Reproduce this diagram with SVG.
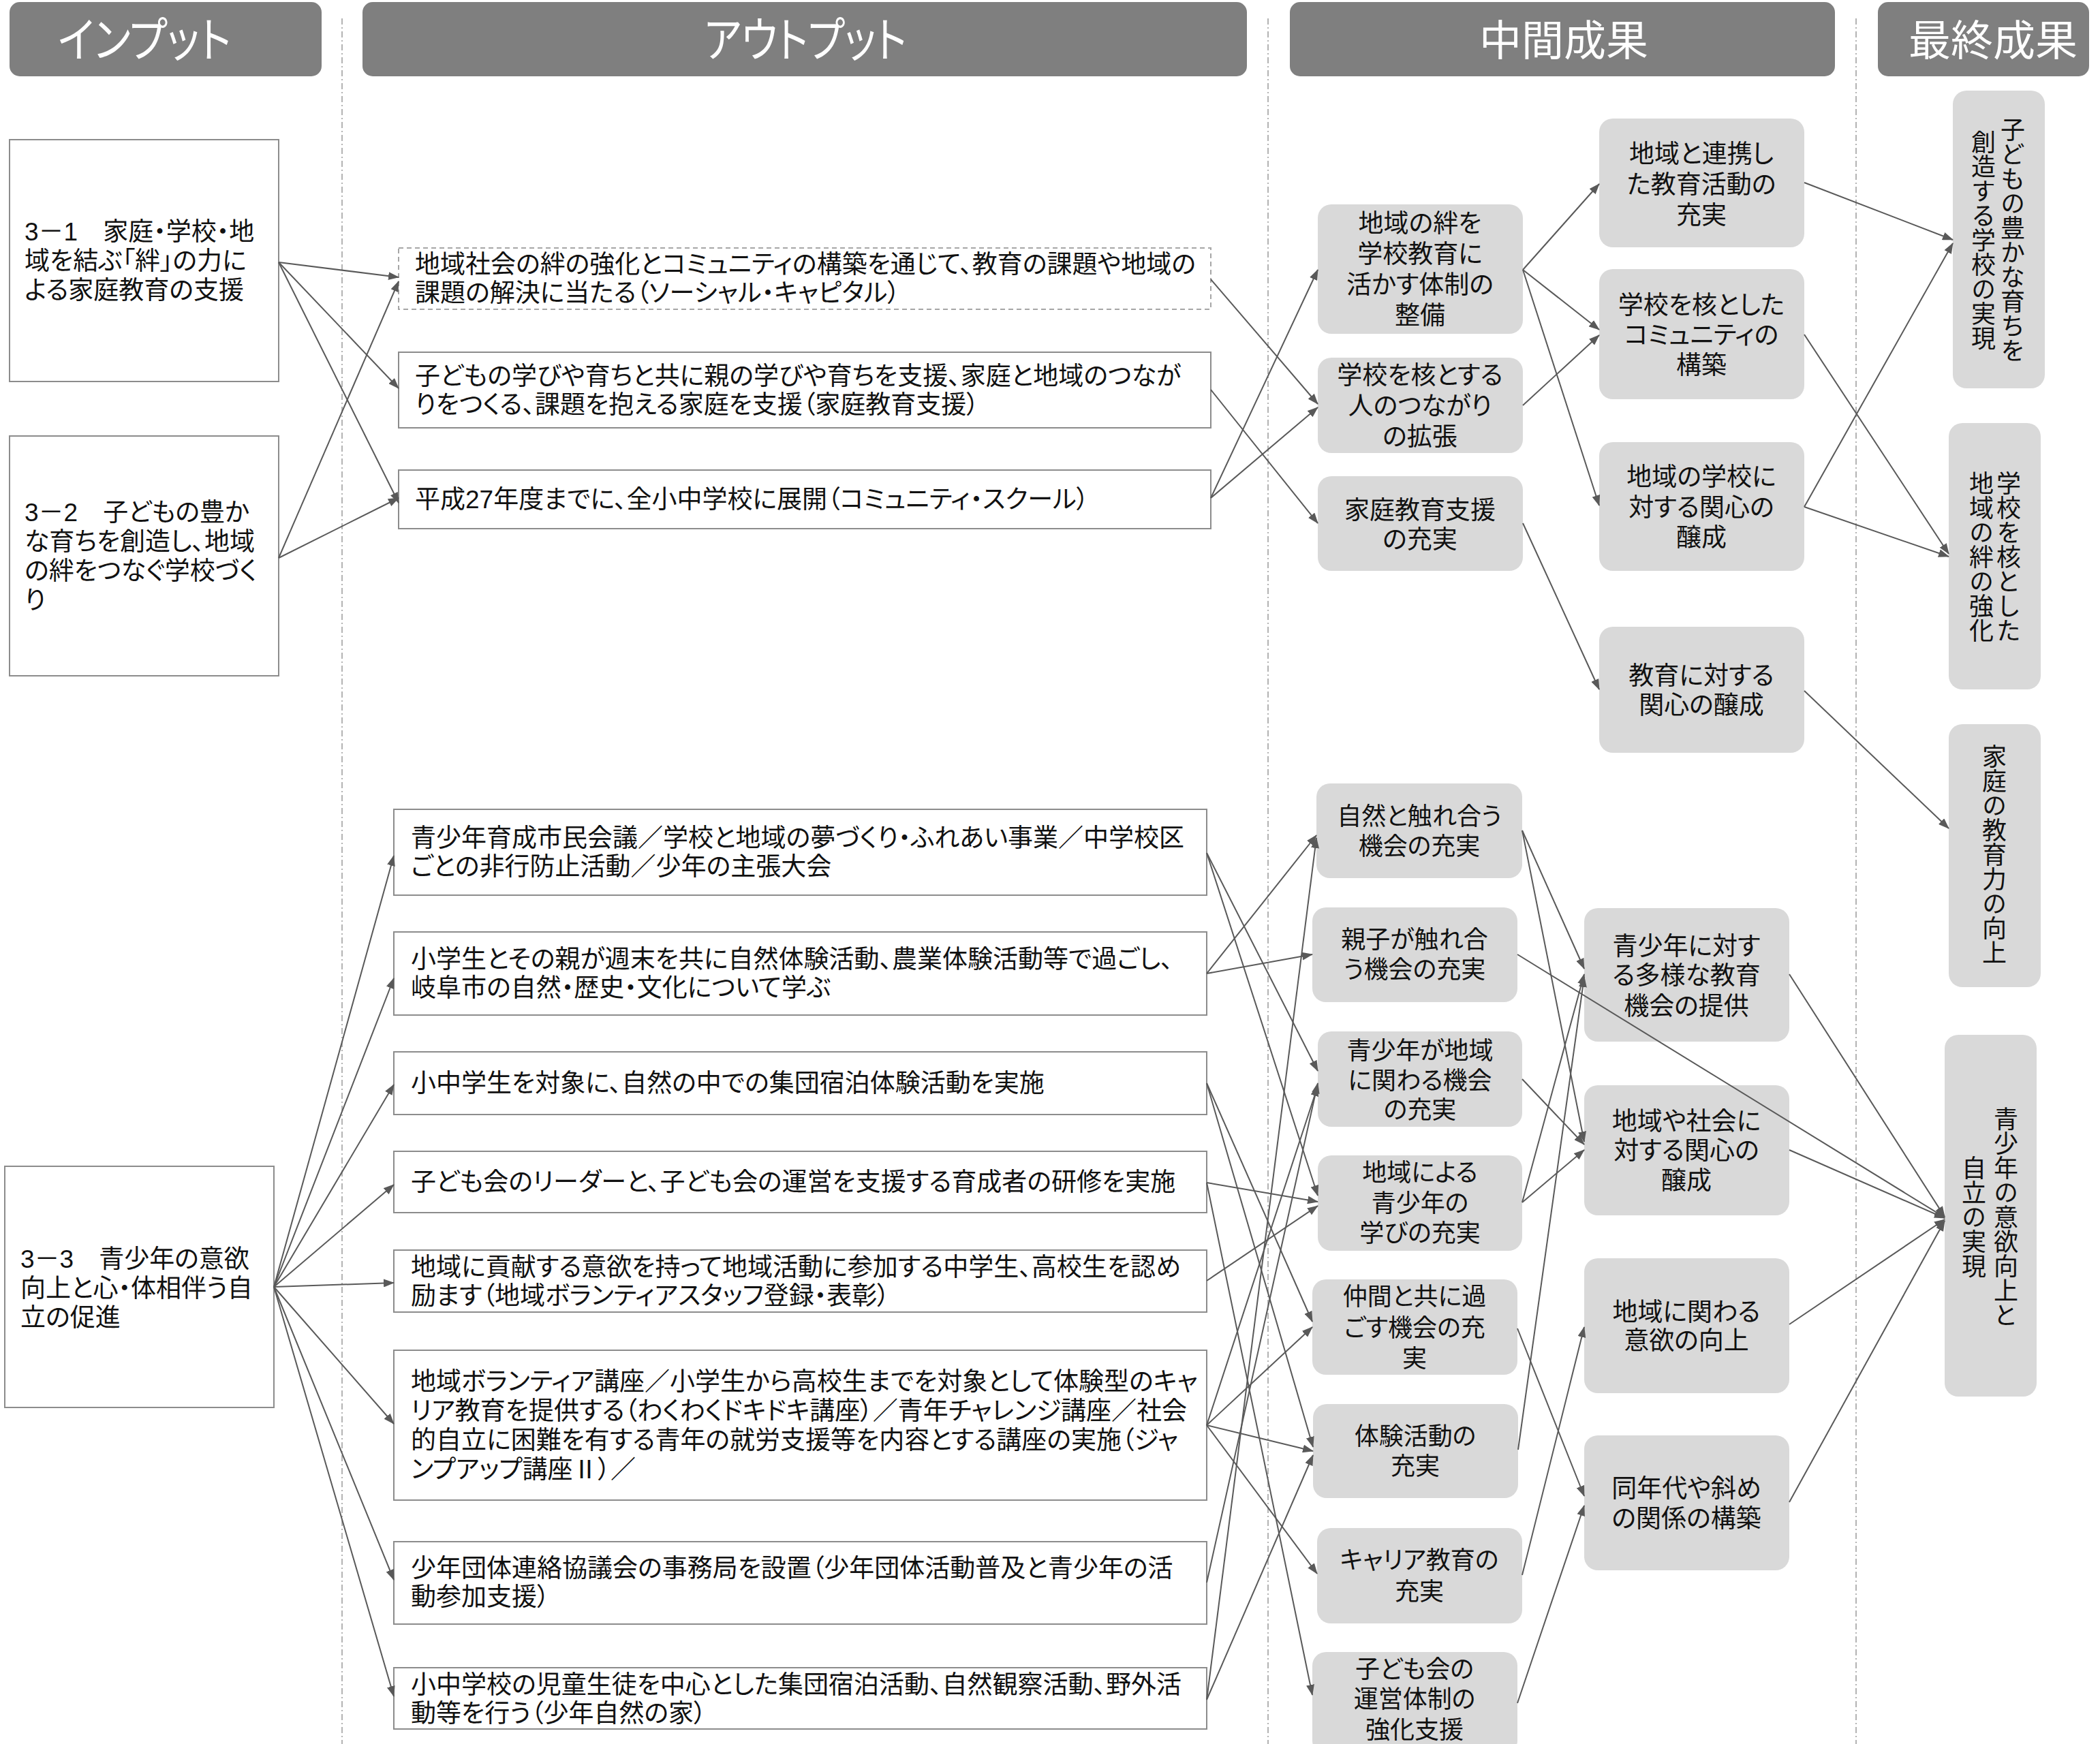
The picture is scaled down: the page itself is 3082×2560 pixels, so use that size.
<svg xmlns="http://www.w3.org/2000/svg" width="3082" height="2560" viewBox="0 0 3082 2560">
<defs>
<marker id="ah" viewBox="0 0 16 12" refX="15" refY="6" markerWidth="16" markerHeight="12" markerUnits="userSpaceOnUse" orient="auto"><path d="M0,0 L16,6 L0,12 z" fill="#595959"/></marker>
<style>
.hd{fill:#7f7f7f}
.ht{fill:#fff;font-family:"Liberation Sans","Noto Sans CJK JP",sans-serif;font-size:62px;text-anchor:middle;dominant-baseline:central;font-feature-settings:"palt"}
.hk{font-size:70px}
.sep{stroke:#9a9a9a;stroke-width:1.5;stroke-dasharray:9 4 2 4;fill:none}
.bx{fill:#fff;stroke:#8c8c8c;stroke-width:2}
.bxd{fill:#fff;stroke:#a6a6a6;stroke-width:2;stroke-dasharray:7 5}
.nd{fill:#d9d9d9}
.t{font-family:"Liberation Sans","Noto Sans CJK JP",sans-serif;font-size:37px;fill:#111;dominant-baseline:central;font-feature-settings:"palt"}
.c{text-anchor:middle}
.s{font-size:36px}
.v{font-family:"Noto Sans CJK JP",sans-serif;font-size:36px;fill:#111;writing-mode:vertical-rl;text-anchor:middle}
.ln{stroke:#595959;stroke-width:2;fill:none;marker-end:url(#ah)}
</style>
</defs>
<rect width="3082" height="2560" fill="#fff"/>

<g id="headers">
<rect class="hd" x="14" y="3" width="458" height="109" rx="15"/>
<text class="ht hk" x="212" y="60" textLength="254" lengthAdjust="spacingAndGlyphs">インプット</text>
<rect class="hd" x="532" y="3" width="1298" height="109" rx="15"/>
<text class="ht hk" x="1182" y="60" textLength="297" lengthAdjust="spacingAndGlyphs">アウトプット</text>
<rect class="hd" x="1893" y="3" width="800" height="109" rx="15"/>
<text class="ht" x="2295" y="60">中間成果</text>
<rect class="hd" x="2756" y="3" width="310" height="109" rx="15"/>
<text class="ht" x="2925" y="60">最終成果</text>
</g>

<g id="separators">
<line class="sep" x1="502" y1="27" x2="502" y2="2560"/>
<line class="sep" x1="1861" y1="27" x2="1861" y2="2560"/>
<line class="sep" x1="2724" y1="27" x2="2724" y2="2560"/>
</g>

<g id="in31"><rect class="bx" x="14" y="205" width="395" height="355"/>
<text class="t"><tspan x="36" y="340">3－1　家庭・学校・地</tspan><tspan x="36" y="383">域を結ぶ「絆」の力に</tspan><tspan x="36" y="426">よる家庭教育の支援</tspan></text></g>
<g id="in32"><rect class="bx" x="14" y="640" width="395" height="352"/>
<text class="t"><tspan x="36" y="752">3－2　子どもの豊か</tspan><tspan x="36" y="795">な育ちを創造し、地域</tspan><tspan x="36" y="838">の絆をつなぐ学校づく</tspan><tspan x="36" y="881">り</tspan></text></g>
<g id="in33"><rect class="bx" x="7" y="1712" width="395" height="354"/>
<text class="t"><tspan x="30" y="1848">3－3　青少年の意欲</tspan><tspan x="30" y="1891">向上と心・体相伴う自</tspan><tspan x="30" y="1934">立の促進</tspan></text></g>

<g id="o1"><rect class="bxd" x="585" y="364" width="1192" height="90"/>
<text class="t"><tspan x="609" y="388">地域社会の絆の強化とコミュニティの構築を通じて、教育の課題や地域の</tspan><tspan x="609" y="430">課題の解決に当たる（ソーシャル・キャピタル）</tspan></text></g>
<g id="o2"><rect class="bx" x="585" y="517" width="1192" height="111"/>
<text class="t"><tspan x="609" y="552">子どもの学びや育ちと共に親の学びや育ちを支援、家庭と地域のつなが</tspan><tspan x="609" y="594">りをつくる、課題を抱える家庭を支援（家庭教育支援）</tspan></text></g>
<g id="o3"><rect class="bx" x="585" y="690" width="1192" height="86"/>
<text class="t" x="609" y="733">平成27年度までに、全小中学校に展開（コミュニティ・スクール）</text></g>

<g id="b1"><rect class="bx" x="578" y="1188" width="1193" height="126"/>
<text class="t"><tspan x="603" y="1230">青少年育成市民会議／学校と地域の夢づくり・ふれあい事業／中学校区</tspan><tspan x="603" y="1272">ごとの非行防止活動／少年の主張大会</tspan></text></g>
<g id="b2"><rect class="bx" x="578" y="1368" width="1193" height="122"/>
<text class="t"><tspan x="603" y="1408">小学生とその親が週末を共に自然体験活動、農業体験活動等で過ごし、</tspan><tspan x="603" y="1450">岐阜市の自然・歴史・文化について学ぶ</tspan></text></g>
<g id="b3"><rect class="bx" x="578" y="1544" width="1193" height="92"/>
<text class="t" x="603" y="1590">小中学生を対象に、自然の中での集団宿泊体験活動を実施</text></g>
<g id="b4"><rect class="bx" x="578" y="1690" width="1193" height="90"/>
<text class="t" x="603" y="1735">子ども会のリーダーと、子ども会の運営を支援する育成者の研修を実施</text></g>
<g id="b5"><rect class="bx" x="578" y="1835" width="1193" height="91"/>
<text class="t"><tspan x="603" y="1860">地域に貢献する意欲を持って地域活動に参加する中学生、高校生を認め</tspan><tspan x="603" y="1902">励ます（地域ボランティアスタッフ登録・表彰）</tspan></text></g>
<g id="b6"><rect class="bx" x="578" y="1982" width="1193" height="220"/>
<text class="t"><tspan x="603" y="2028">地域ボランティア講座／小学生から高校生までを対象として体験型のキャ</tspan><tspan x="603" y="2071">リア教育を提供する（わくわくドキドキ講座）／青年チャレンジ講座／社会</tspan><tspan x="603" y="2114">的自立に困難を有する青年の就労支援等を内容とする講座の実施（ジャ</tspan><tspan x="603" y="2157">ンプアップ講座Ⅱ）／</tspan></text></g>
<g id="b7"><rect class="bx" x="578" y="2263" width="1193" height="121"/>
<text class="t"><tspan x="603" y="2302">少年団体連絡協議会の事務局を設置（少年団体活動普及と青少年の活</tspan><tspan x="603" y="2344">動参加支援）</tspan></text></g>
<g id="b8"><rect class="bx" x="578" y="2448" width="1193" height="90"/>
<text class="t"><tspan x="603" y="2473">小中学校の児童生徒を中心とした集団宿泊活動、自然観察活動、野外活</tspan><tspan x="603" y="2515">動等を行う（少年自然の家）</tspan></text></g>

<g id="a1"><rect class="nd" x="1934" y="300" width="301" height="190" rx="20"/>
<text class="t c"><tspan x="2084" y="328">地域の絆を</tspan><tspan x="2084" y="373">学校教育に</tspan><tspan x="2084" y="418">活かす体制の</tspan><tspan x="2084" y="463">整備</tspan></text></g>
<g id="a2"><rect class="nd" x="1934" y="525" width="301" height="140" rx="20"/>
<text class="t c"><tspan x="2084" y="551">学校を核とする</tspan><tspan x="2084" y="596">人のつながり</tspan><tspan x="2084" y="641">の拡張</tspan></text></g>
<g id="a3"><rect class="nd" x="1934" y="699" width="301" height="139" rx="20"/>
<text class="t c"><tspan x="2084" y="749">家庭教育支援</tspan><tspan x="2084" y="792">の充実</tspan></text></g>

<g id="c1"><rect class="nd" x="2347" y="174" width="301" height="189" rx="20"/>
<text class="t c"><tspan x="2497" y="226">地域と連携し</tspan><tspan x="2497" y="271">た教育活動の</tspan><tspan x="2497" y="316">充実</tspan></text></g>
<g id="c2"><rect class="nd" x="2347" y="395" width="301" height="191" rx="20"/>
<text class="t c"><tspan x="2497" y="448">学校を核とした</tspan><tspan x="2497" y="492">コミュニティの</tspan><tspan x="2497" y="536">構築</tspan></text></g>
<g id="c3"><rect class="nd" x="2347" y="649" width="301" height="189" rx="20"/>
<text class="t c"><tspan x="2497" y="700">地域の学校に</tspan><tspan x="2497" y="745">対する関心の</tspan><tspan x="2497" y="789">醸成</tspan></text></g>
<g id="c4"><rect class="nd" x="2347" y="920" width="301" height="185" rx="20"/>
<text class="t c"><tspan x="2497" y="992">教育に対する</tspan><tspan x="2497" y="1035">関心の醸成</tspan></text></g>

<g id="d1"><rect class="nd" x="1932" y="1150" width="302" height="139" rx="20"/>
<text class="t c s"><tspan x="2083" y="1198">自然と触れ合う</tspan><tspan x="2083" y="1242">機会の充実</tspan></text></g>
<g id="d2"><rect class="nd" x="1926" y="1332" width="301" height="139" rx="20"/>
<text class="t c s"><tspan x="2076" y="1379">親子が触れ合</tspan><tspan x="2076" y="1423">う機会の充実</tspan></text></g>
<g id="d3"><rect class="nd" x="1934" y="1514" width="300" height="140" rx="20"/>
<text class="t c s"><tspan x="2084" y="1542">青少年が地域</tspan><tspan x="2084" y="1586">に関わる機会</tspan><tspan x="2084" y="1629">の充実</tspan></text></g>
<g id="d4"><rect class="nd" x="1934" y="1696" width="300" height="140" rx="20"/>
<text class="t c s"><tspan x="2084" y="1721">地域による</tspan><tspan x="2084" y="1766">青少年の</tspan><tspan x="2084" y="1810">学びの充実</tspan></text></g>
<g id="d5"><rect class="nd" x="1926" y="1878" width="301" height="140" rx="20"/>
<text class="t c s"><tspan x="2076" y="1903">仲間と共に過</tspan><tspan x="2076" y="1949">ごす機会の充</tspan><tspan x="2076" y="1994">実</tspan></text></g>
<g id="d6"><rect class="nd" x="1927" y="2061" width="301" height="138" rx="20"/>
<text class="t c s"><tspan x="2077" y="2108">体験活動の</tspan><tspan x="2077" y="2152">充実</tspan></text></g>
<g id="d7"><rect class="nd" x="1933" y="2243" width="301" height="140" rx="20"/>
<text class="t c s"><tspan x="2083" y="2290">キャリア教育の</tspan><tspan x="2083" y="2336">充実</tspan></text></g>
<g id="d8"><rect class="nd" x="1926" y="2425" width="301" height="150" rx="20"/>
<text class="t c s"><tspan x="2076" y="2450">子ども会の</tspan><tspan x="2076" y="2494">運営体制の</tspan><tspan x="2076" y="2539">強化支援</tspan></text></g>

<g id="e1"><rect class="nd" x="2325" y="1333" width="301" height="196" rx="20"/>
<text class="t c"><tspan x="2475" y="1389">青少年に対す</tspan><tspan x="2475" y="1432">る多様な教育</tspan><tspan x="2475" y="1477">機会の提供</tspan></text></g>
<g id="e2"><rect class="nd" x="2325" y="1593" width="301" height="191" rx="20"/>
<text class="t c"><tspan x="2475" y="1646">地域や社会に</tspan><tspan x="2475" y="1689">対する関心の</tspan><tspan x="2475" y="1733">醸成</tspan></text></g>
<g id="e3"><rect class="nd" x="2325" y="1847" width="301" height="198" rx="20"/>
<text class="t c"><tspan x="2475" y="1926">地域に関わる</tspan><tspan x="2475" y="1968">意欲の向上</tspan></text></g>
<g id="e4"><rect class="nd" x="2325" y="2107" width="301" height="198" rx="20"/>
<text class="t c"><tspan x="2475" y="2185">同年代や斜め</tspan><tspan x="2475" y="2229">の関係の構築</tspan></text></g>

<g id="f1"><rect class="nd" x="2866" y="133" width="135" height="437" rx="20"/>
<text class="v" x="2954" y="352">子どもの豊かな育ちを</text>
<text class="v" x="2911" y="352">創造する学校の実現</text></g>
<g id="f2"><rect class="nd" x="2860" y="621" width="135" height="391" rx="20"/>
<text class="v" x="2948" y="817">学校を核とした</text>
<text class="v" x="2908" y="817">地域の絆の強化</text></g>
<g id="f3"><rect class="nd" x="2860" y="1063" width="135" height="386" rx="20"/>
<text class="v" x="2927" y="1254">家庭の教育力の向上</text></g>
<g id="f4"><rect class="nd" x="2854" y="1519" width="135" height="531" rx="20"/>
<text class="v" x="2944" y="1786">青少年の意欲向上と</text>
<text class="v" x="2897" y="1786">自立の実現</text></g>

<g id="connectors">
<line class="ln" x1="409" y1="385" x2="585" y2="407"/>
<line class="ln" x1="409" y1="385" x2="585" y2="570"/>
<line class="ln" x1="409" y1="385" x2="585" y2="738"/>
<line class="ln" x1="409" y1="819" x2="585" y2="413"/>
<line class="ln" x1="409" y1="819" x2="585" y2="731"/>
<line class="ln" x1="1777" y1="410" x2="1934" y2="593"/>
<line class="ln" x1="1777" y1="572" x2="1934" y2="768"/>
<line class="ln" x1="1777" y1="731" x2="1934" y2="396"/>
<line class="ln" x1="1777" y1="731" x2="1934" y2="598"/>
<line class="ln" x1="2235" y1="396" x2="2347" y2="270"/>
<line class="ln" x1="2235" y1="396" x2="2347" y2="484"/>
<line class="ln" x1="2235" y1="396" x2="2347" y2="742"/>
<line class="ln" x1="2235" y1="595" x2="2347" y2="492"/>
<line class="ln" x1="2235" y1="768" x2="2347" y2="1012"/>
<line class="ln" x1="2648" y1="268" x2="2866" y2="352"/>
<line class="ln" x1="2648" y1="744" x2="2866" y2="357"/>
<line class="ln" x1="2648" y1="491" x2="2860" y2="813"/>
<line class="ln" x1="2648" y1="744" x2="2860" y2="817"/>
<line class="ln" x1="2648" y1="1014" x2="2860" y2="1216"/>

<line class="ln" x1="402" y1="1889" x2="578" y2="1256"/>
<line class="ln" x1="402" y1="1889" x2="578" y2="1436"/>
<line class="ln" x1="402" y1="1889" x2="578" y2="1592"/>
<line class="ln" x1="402" y1="1889" x2="578" y2="1739"/>
<line class="ln" x1="402" y1="1889" x2="578" y2="1883"/>
<line class="ln" x1="402" y1="1889" x2="578" y2="2090"/>
<line class="ln" x1="402" y1="1889" x2="578" y2="2319"/>
<line class="ln" x1="402" y1="1889" x2="578" y2="2490"/>

<line class="ln" x1="1771" y1="1252" x2="1934" y2="1572"/>
<line class="ln" x1="1771" y1="1252" x2="1934" y2="1755"/>
<line class="ln" x1="1771" y1="1429" x2="1932" y2="1226"/>
<line class="ln" x1="1771" y1="1429" x2="1926" y2="1401"/>
<line class="ln" x1="1771" y1="1590" x2="1926" y2="1940"/>
<line class="ln" x1="1771" y1="1590" x2="1927" y2="2124"/>
<line class="ln" x1="1771" y1="1736" x2="1934" y2="1764"/>
<line class="ln" x1="1771" y1="1736" x2="1926" y2="2488"/>
<line class="ln" x1="1771" y1="1880" x2="1934" y2="1770"/>
<line class="ln" x1="1771" y1="2092" x2="1934" y2="1594"/>
<line class="ln" x1="1771" y1="2092" x2="1926" y2="1948"/>
<line class="ln" x1="1771" y1="2092" x2="1927" y2="2130"/>
<line class="ln" x1="1771" y1="2092" x2="1933" y2="2310"/>
<line class="ln" x1="1771" y1="2323" x2="1934" y2="1590"/>
<line class="ln" x1="1771" y1="2495" x2="1932" y2="1230"/>
<line class="ln" x1="1771" y1="2495" x2="1927" y2="2136"/>

<line class="ln" x1="2234" y1="1219" x2="2325" y2="1422"/>
<line class="ln" x1="2234" y1="1219" x2="2325" y2="1676"/>
<line class="ln" x1="2227" y1="1401" x2="2854" y2="1787"/>
<line class="ln" x1="2234" y1="1584" x2="2325" y2="1680"/>
<line class="ln" x1="2234" y1="1765" x2="2325" y2="1430"/>
<line class="ln" x1="2234" y1="1765" x2="2325" y2="1688"/>
<line class="ln" x1="2227" y1="1950" x2="2325" y2="2196"/>
<line class="ln" x1="2228" y1="2128" x2="2325" y2="1434"/>
<line class="ln" x1="2234" y1="2312" x2="2325" y2="1948"/>
<line class="ln" x1="2227" y1="2500" x2="2325" y2="2210"/>

<line class="ln" x1="2626" y1="1430" x2="2854" y2="1786"/>
<line class="ln" x1="2626" y1="1688" x2="2854" y2="1788"/>
<line class="ln" x1="2626" y1="1944" x2="2854" y2="1790"/>
<line class="ln" x1="2626" y1="2205" x2="2854" y2="1792"/>
</g>
</svg>
